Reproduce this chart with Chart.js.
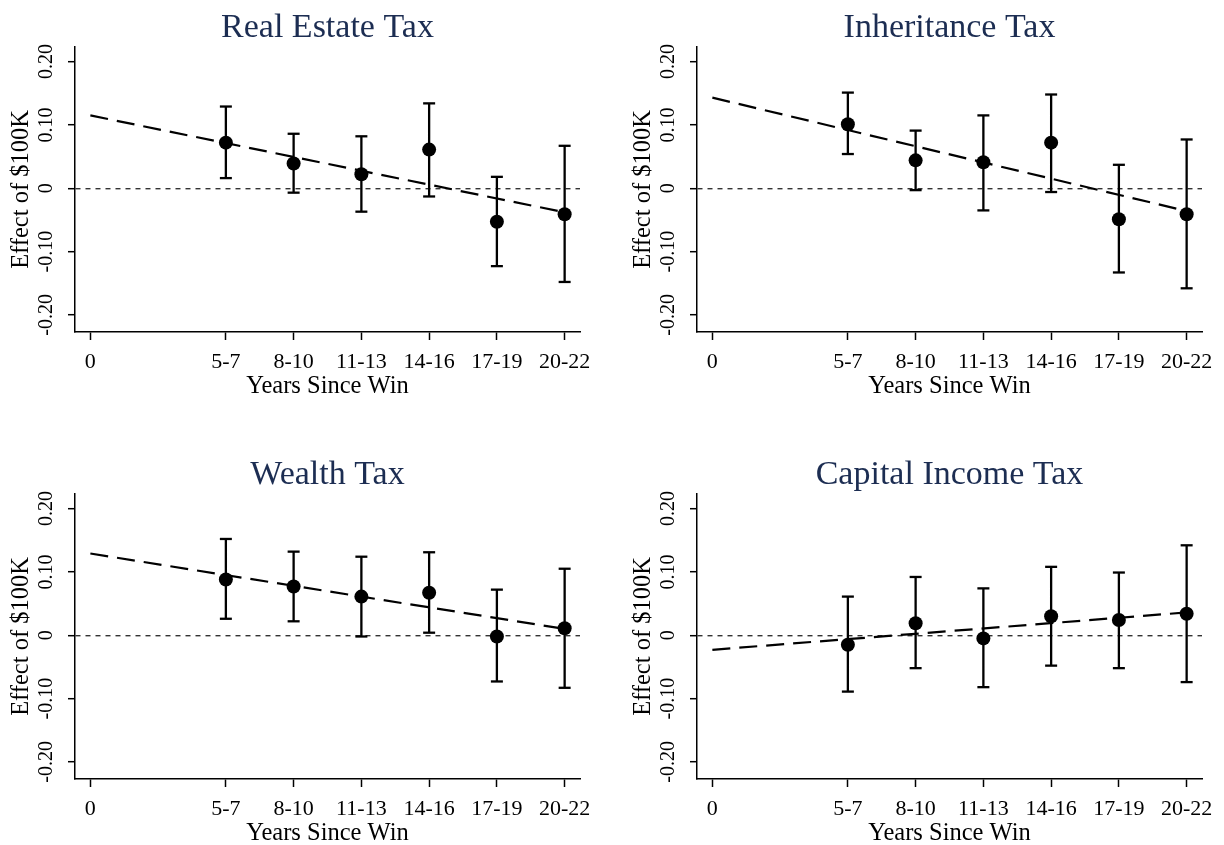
<!DOCTYPE html>
<html>
<head>
<meta charset="utf-8">
<script src="https://cdn.jsdelivr.net/npm/chart.js@4/dist/chart.umd.min.js"></script>
<style>
  html, body { margin: 0; padding: 0; background: #fff; overflow: hidden; }
  body { width: 1224px; height: 845px; position: relative; }
  canvas { position: absolute; }
</style>
</head>
<body>
<canvas id="realEstate" width="600" height="402" style="left:0;top:0"></canvas>
<canvas id="inheritance" width="600" height="402" style="left:622px;top:0"></canvas>
<canvas id="wealth" width="600" height="402" style="left:0;top:447px"></canvas>
<canvas id="capital" width="600" height="402" style="left:622px;top:447px"></canvas>
<script>
// x positions are the mid year of each bin
const xPos = [6, 9, 12, 15, 18, 21];
const xTickValues = [0, 6, 9, 12, 15, 18, 21];
const xTickLabels = ["0", "5-7", "8-10", "11-13", "14-16", "17-19", "20-22"];
const yTickValues = [-0.2, -0.1, 0, 0.1, 0.2];
const yTickLabels = ["-0.20", "-0.10", "0", "0.10", "0.20"];

const realEstateEst = [0.072, 0.039, 0.022, 0.061, -0.053, -0.041];
const realEstateLo = [0.016, -0.007, -0.037, -0.013, -0.123, -0.148];
const realEstateHi = [0.129, 0.086, 0.082, 0.134, 0.018, 0.067];
const realEstateTrend = [0.115, -0.038];

const inheritanceEst = [0.101, 0.044, 0.041, 0.072, -0.049, -0.041];
const inheritanceLo = [0.054, -0.003, -0.035, -0.006, -0.133, -0.158];
const inheritanceHi = [0.151, 0.091, 0.115, 0.148, 0.037, 0.077];
const inheritanceTrend = [0.143, -0.036];

const wealthEst = [0.088, 0.077, 0.061, 0.067, -0.002, 0.011];
const wealthLo = [0.026, 0.022, -0.002, 0.004, -0.073, -0.083];
const wealthHi = [0.152, 0.132, 0.124, 0.131, 0.072, 0.105];
const wealthTrend = [0.129, 0.010];

const capitalEst = [-0.015, 0.019, -0.005, 0.030, 0.024, 0.034];
const capitalLo = [-0.089, -0.052, -0.082, -0.048, -0.052, -0.074];
const capitalHi = [0.061, 0.092, 0.074, 0.108, 0.099, 0.142];
const capitalTrend = [-0.023, 0.036];

Chart.defaults.font.family = '"Liberation Serif", "Times New Roman", serif';
Chart.defaults.color = "#000";

function makePanel(id, title, est, lo, hi, trend) {
  const whiskers = [];
  const caps = [];
  xPos.forEach((x, i) => {
    whiskers.push({ x: x, y: lo[i] }, { x: x, y: hi[i] }, { x: x, y: null });
    caps.push({ x: x, y: lo[i] }, { x: x, y: hi[i] });
  });

  new Chart(document.getElementById(id), {
    type: "line",
    data: {
      datasets: [
        {
          data: xPos.map((x, i) => ({ x: x, y: est[i] })),
          showLine: false,
          pointRadius: 7,
          pointBackgroundColor: "#000",
          pointBorderWidth: 0,
          order: 0,
        },
        {
          data: caps,
          showLine: false,
          pointStyle: "line",
          pointRadius: 6,
          pointBorderColor: "#000",
          pointBorderWidth: 2.3,
          order: 1,
        },
        {
          data: whiskers,
          borderColor: "#000",
          borderWidth: 2.3,
          pointRadius: 0,
          spanGaps: false,
          order: 1,
        },
        {
          data: [
            { x: xTickValues[0], y: trend[0] },
            { x: xTickValues[xTickValues.length - 1], y: trend[1] },
          ],
          borderColor: "#000",
          borderWidth: 2.2,
          borderDash: [18, 9],
          pointRadius: 0,
          order: 2,
        },
      ],
    },
    options: {
      responsive: false,
      animation: false,
      layout: { padding: { left: 0, right: 20, top: 0, bottom: 0 } },
      plugins: {
        legend: { display: false },
        tooltip: { enabled: false },
        title: {
          display: true,
          text: title,
          color: "#1c2d52",
          fullSize: false,
          font: { size: 34, weight: "normal", lineHeight: 1.1 },
          padding: { top: 9, bottom: 0.6 },
        },
      },
      scales: {
        x: {
          type: "linear",
          min: -0.68,
          max: 21.68,
          afterBuildTicks: (s) => { s.ticks = xTickValues.map((v) => ({ value: v })); },
          afterFit: (s) => { s.height = 70; },
          ticks: {
            autoSkip: false,
            maxRotation: 0,
            padding: 9,
            font: { size: 22 },
            callback: (v, i) => xTickLabels[i],
          },
          grid: {
            drawOnChartArea: false,
            tickLength: 8,
            tickColor: "#000",
            tickWidth: 1.5,
          },
          border: { display: true, color: "#000", width: 1.5 },
          title: {
            display: true,
            text: "Years Since Win",
            font: { size: 24.5, lineHeight: 1 },
            padding: { top: 0, bottom: 2.75 },
          },
        },
        y: {
          type: "linear",
          min: -0.227,
          max: 0.223,
          afterBuildTicks: (s) => { s.ticks = yTickValues.map((v) => ({ value: v })); },
          afterFit: (s) => { s.width = 75; },
          ticks: {
            minRotation: 90,
            maxRotation: 90,
            crossAlign: "center",
            padding: 0,
            font: { size: 20 },
            callback: (v, i) => yTickLabels[i],
          },
          grid: {
            drawOnChartArea: true,
            color: (c) => (c.tick && c.tick.value === 0 ? "#333" : "rgba(0,0,0,0)"),
            lineWidth: 1.4,
            tickLength: 7,
            tickColor: "#000",
            tickWidth: 1.5,
          },
          border: { display: true, color: "#000", width: 1.5, dash: [5, 5] },
          title: {
            display: true,
            text: "Effect of $100K",
            font: { size: 24.5, lineHeight: 1 },
            padding: { top: 9.5, bottom: 0 },
          },
        },
      },
    },
  });
}

makePanel("realEstate", "Real Estate Tax", realEstateEst, realEstateLo, realEstateHi, realEstateTrend);
makePanel("inheritance", "Inheritance Tax", inheritanceEst, inheritanceLo, inheritanceHi, inheritanceTrend);
makePanel("wealth", "Wealth Tax", wealthEst, wealthLo, wealthHi, wealthTrend);
makePanel("capital", "Capital Income Tax", capitalEst, capitalLo, capitalHi, capitalTrend);
</script>
</body>
</html>
